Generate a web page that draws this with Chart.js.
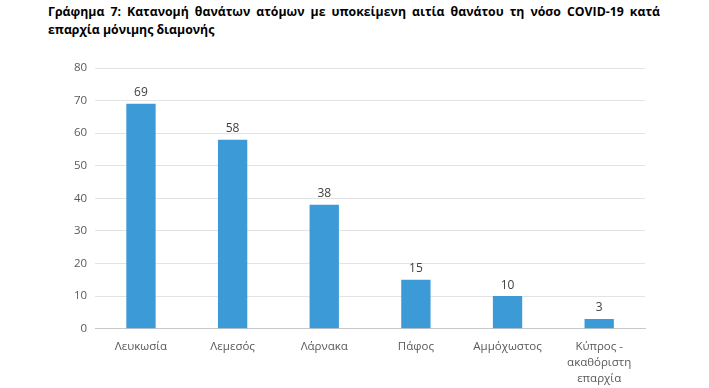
<!DOCTYPE html>
<html lang="el">
<head>
    <meta charset="UTF-8">
    <title>Γράφημα 7</title>
    <style>
        body {
            margin: 0;
            width: 709px;
            height: 388px;
            background: #fff;
            position: relative;
            overflow: hidden;
            font-family: "Open Sans", sans-serif;
        }
        .title {
            position: absolute;
            left: 48px;
            top: 3px;
            width: 612px;
            font-size: 12.3px;
            font-weight: bold;
            line-height: 18px;
            color: #000;
            text-align: justify;
        }
        .chart-box {
            position: absolute;
            left: 0;
            top: 0;
            width: 709px;
            height: 389px;
        }
    </style>
    <script src="https://cdn.jsdelivr.net/npm/chart.js"></script>
</head>
<body>
    <div class="title">Γράφημα 7: Κατανομή θανάτων ατόμων με υποκείμενη αιτία θανάτου τη νόσο COVID-19 κατά επαρχία μόνιμης διαμονής</div>
    <div class="chart-box"><canvas id="deathsChart"></canvas></div>

    <script>
        // data
        const districts = ['Λευκωσία', 'Λεμεσός', 'Λάρνακα', 'Πάφος', 'Αμμόχωστος', ['Κύπρος -', 'ακαθόριστη', 'επαρχία']];
        const deaths = [69, 58, 38, 15, 10, 3];
        const yMax = 80;
        const yStep = 10;

        // value labels above each bar
        const valueLabels = {
            id: 'valueLabels',
            afterDatasetsDraw(chart) {
                const ctx = chart.ctx;
                const meta = chart.getDatasetMeta(0);
                ctx.save();
                ctx.font = '12px "Open Sans", sans-serif';
                ctx.fillStyle = '#404040';
                ctx.textAlign = 'center';
                ctx.textBaseline = 'bottom';
                meta.data.forEach((bar, i) => {
                    ctx.fillText(deaths[i], bar.x, bar.y - 5);
                });
                ctx.restore();
            }
        };

        const ctx = document.getElementById('deathsChart').getContext('2d');
        new Chart(ctx, {
            type: 'bar',
            data: {
                labels: districts,
                datasets: [{
                    data: deaths,
                    backgroundColor: '#3c9ad6',
                    barPercentage: 0.32,
                    categoryPercentage: 1
                }]
            },
            options: {
                responsive: true,
                maintainAspectRatio: false,
                animation: false,
                layout: {
                    padding: { left: 66, right: 64, top: 68, bottom: 0 }
                },
                plugins: {
                    legend: { display: false },
                    tooltip: { enabled: false }
                },
                scales: {
                    x: {
                        grid: { display: false },
                        border: { color: '#c8c8c8' },
                        ticks: {
                            color: '#595959',
                            font: { family: '"Open Sans", sans-serif', size: 11.5, lineHeight: 1.4 },
                            maxRotation: 0,
                            autoSkip: false,
                            padding: 2
                        }
                    },
                    y: {
                        min: 0,
                        max: yMax,
                        border: { display: false },
                        grid: {
                            color: '#e3e3e3',
                            drawTicks: false
                        },
                        ticks: {
                            stepSize: yStep,
                            color: '#595959',
                            font: { family: '"Open Sans", sans-serif', size: 11.5 },
                            padding: 8
                        }
                    }
                }
            },
            plugins: [valueLabels]
        });
    </script>
</body>
</html>
